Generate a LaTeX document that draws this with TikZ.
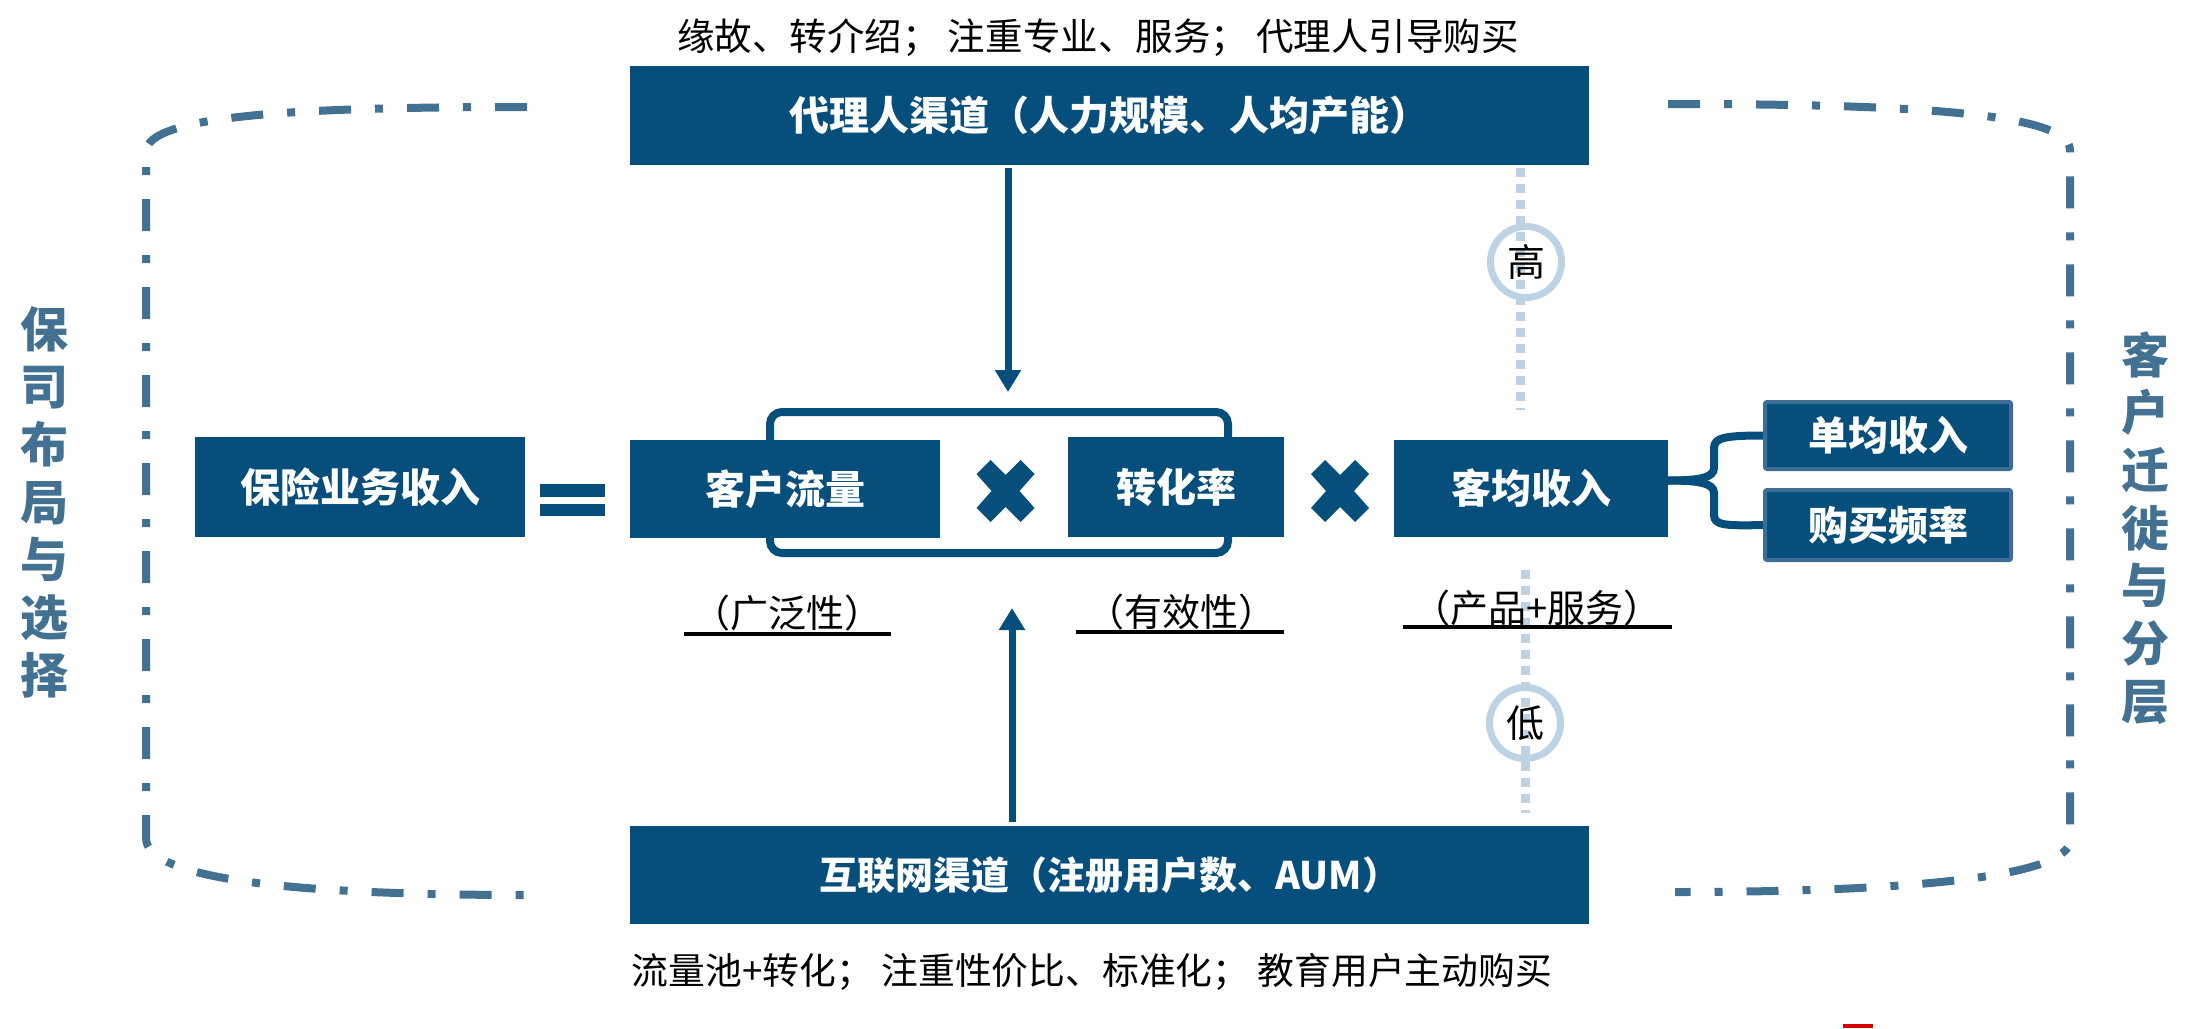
\documentclass[tikz,border=0pt]{standalone}
\usepackage{fontspec}
\setmainfont{Noto Sans CJK SC}
\usetikzlibrary{arrows.meta}
\definecolor{boxblue}{RGB}{6,78,124}
\definecolor{frameblue}{RGB}{66,113,146}
\definecolor{lightblue}{RGB}{189,211,227}
\definecolor{edgeblue}{RGB}{62,109,148}
\tikzset{
 bluebox/.style={fill=boxblue, text=white, inner sep=0pt, font=\fontsize{40}{44}\selectfont\bfseries},
 subbox/.style={bluebox, draw=edgeblue, line width=4pt, rounded corners=2pt},
 frameline/.style={draw=frameblue, line width=8pt, dash pattern=on 32pt off 24pt on 8pt off 24pt},
 dotline/.style={draw=lightblue, line width=9pt, dash pattern=on 9pt off 7pt},
 ring/.style={circle, draw=lightblue, line width=7pt, minimum size=71pt, inner sep=0pt, text=black, font=\fontsize{38}{42}\selectfont},
 blacktext/.style={text=black, inner sep=0pt, font=\fontsize{37.5}{42}\selectfont},
 sidetext/.style={text=frameblue, align=center, inner sep=0pt, font=\fontsize{48}{57.7}\selectfont\bfseries},
 arr/.style={draw=boxblue, line width=7pt, -{Triangle[width=25pt,length=22pt]}},
 uline/.style={draw=black, line width=3.5pt},
 bracestyle/.style={draw=boxblue, line width=8pt},
 timesx/.pic={\fill[boxblue] (-29,-17) -- (-15,-31) -- (0,-16) -- (15,-31) -- (29,-17) -- (14,0) -- (29,17) -- (15,31) -- (0,16) -- (-15,31) -- (-29,17) -- (-14,0) -- cycle;},
}
\begin{document}
\begin{tikzpicture}[x=1pt,y=-1pt]
\useasboundingbox (0,0) rectangle (2191,1028);
% dash-dot frames
\draw[frameline] (527,107) .. controls (300,107) and (146,115) .. (146,152) -- (146,838) .. controls (146,880) and (300,895) .. (527,895);
\draw[frameline] (1668,104) .. controls (1900,104) and (2070,112) .. (2070,150) -- (2070,840) .. controls (2070,878) and (1900,892) .. (1675,892);
% side texts
\node[sidetext] (lside) at (44,502) {保\\司\\布\\局\\与\\选\\择};
\node[sidetext] (rside) at (2145,528) {客\\户\\迁\\徙\\与\\分\\层};
% bracket behind the two boxes
\draw[bracestyle, rounded corners=12pt] (770,412) rectangle (1228,553);
% main boxes
\node[bluebox, minimum width=959, minimum height=99] (topbox) at (1109.5,115.5) {代理人渠道（人力规模、人均产能）};
\node[bluebox, minimum width=959, minimum height=98, font=\fontsize{38}{42}\selectfont\bfseries] (botbox) at (1109.5,875) {互联网渠道（注册用户数、AUM）};
\node[bluebox, minimum width=330, minimum height=100] (income) at (360,487) {保险业务收入};
\node[bluebox, minimum width=310, minimum height=98] (flow) at (785,489) {客户流量};
\node[bluebox, minimum width=216, minimum height=100] (conv) at (1176,487) {转化率};
\node[bluebox, minimum width=274, minimum height=97] (arpu) at (1531,488.5) {客均收入};
\node[subbox, minimum width=246, minimum height=67] (avg) at (1888,435.5) {单均收入};
\node[subbox, minimum width=246, minimum height=70] (freq) at (1888,525) {购买频率};
% operators
\fill[boxblue] (540,484) rectangle (605,497);
\fill[boxblue] (540,504) rectangle (605,516);
\pic at (1005.5,491) {timesx};
\pic at (1340,491) {timesx};
% brace
\draw[bracestyle] ([yshift=8pt]arpu.east) .. controls (1698,480.5) and (1714,478) .. (1714,468) -- (1714,448) .. controls (1714,438) and (1724,435.5) .. (avg.west);
\draw[bracestyle] ([yshift=8pt]arpu.east) .. controls (1698,480.5) and (1714,483) .. (1714,493) -- (1714,515) .. controls (1714,525) and (1724,526) .. (freq.west);
% arrows
\coordinate (a1) at (1008,392);
\draw[arr, shorten <=3pt] (topbox.south -| a1) -- (a1);
\coordinate (a2) at (1012,608);
\draw[arr, shorten <=4pt] (botbox.north -| a2) -- (a2);
% light dotted line with circles
\coordinate (d1) at (1520,410);
\draw[dotline, shorten <=3pt] (topbox.south -| d1) -- (d1);
\coordinate (d2a) at (1525,570);
\coordinate (d2b) at (1525,813);
\draw[dotline] (d2a) -- (d2b);
\node[ring] (hi) at (1526,262) {高};
\node[ring] (lo) at (1525,723) {低};
% texts
\node[blacktext] (toptext) at (1098,38) {缘故、转介绍； 注重专业、服务； 代理人引导购买};
\node[blacktext, font=\fontsize{36.8}{42}\selectfont] (bottext) at (1092,972) {流量池+转化； 注重性价比、标准化； 教育用户主动购买};
\node[blacktext, font=\fontsize{38}{42}\selectfont] (lab1) at (787,613) {（广泛性）};
\node[blacktext, font=\fontsize{38}{42}\selectfont] (lab2) at (1181,612) {（有效性）};
\node[blacktext, font=\fontsize{38}{42}\selectfont] (lab3) at (1537,608) {（产品+服务）};
\coordinate (u1a) at (684,634); \coordinate (u1b) at (891,634);
\coordinate (u2a) at (1076,632); \coordinate (u2b) at (1284,632);
\coordinate (u3a) at (1403,627); \coordinate (u3b) at (1672,627);
\draw[uline] (u1a) -- (u1b);
\draw[uline] (u2a) -- (u2b);
\draw[uline] (u3a) -- (u3b);
% logo fragment at the bottom edge
\fill[red!85!black] (1843,1024) rectangle (1873,1028);
\end{tikzpicture}
\end{document}
